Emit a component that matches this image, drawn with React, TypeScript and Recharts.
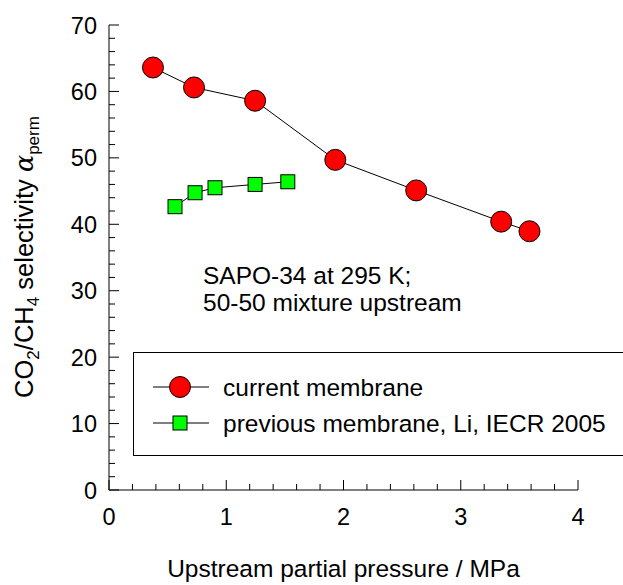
import React from 'react';
import { ComposedChart, Line, XAxis, YAxis, Legend } from 'recharts';

// upstream partial pressure (MPa) and CO2/CH4 permeation selectivity
const CURRENT_P = [0.375, 0.725, 1.246, 1.93, 2.62, 3.345, 3.586];
const CURRENT_SEL = [63.6, 60.6, 58.6, 49.7, 45.1, 40.4, 38.95];
const PREVIOUS_P = [0.563, 0.734, 0.904, 1.246, 1.525];
const PREVIOUS_SEL = [42.65, 44.75, 45.5, 46.0, 46.4];

const SERIES_NAMES = ['current membrane', 'previous membrane, Li, IECR 2005'];

const X_TICKS = [0, 0.2, 0.4, 0.6, 0.8, 1, 1.2, 1.4, 1.6, 1.8, 2, 2.2, 2.4, 2.6, 2.8, 3, 3.2, 3.4, 3.6, 3.8, 4];
const Y_TICKS = [
  0, 2, 4, 6, 8, 10, 12, 14, 16, 18, 20, 22, 24, 26, 28, 30, 32, 34,
  36, 38, 40, 42, 44, 46, 48, 50, 52, 54, 56, 58, 60, 62, 64, 66, 68, 70,
];

const currentData = CURRENT_P.map((x, i) => ({ x, y: CURRENT_SEL[i] }));
const previousData = PREVIOUS_P.map((x, i) => ({ x, y: PREVIOUS_SEL[i] }));

const FONT = '"Liberation Sans", Arial, Helvetica, sans-serif';
const RED = '#ff0000';
const GREEN = '#00ff00';
const TEXT_SIZE = 24.5;
const TICK_SIZE = 23.5;

const isMajor = (v: number, step: number) => Math.abs(v / step - Math.round(v / step)) < 1e-6;

// ticks point into the plot; only major ones get a label
const XTick = (props: any) => {
  const { x, y, payload } = props;
  const major = isMajor(payload.value, 1);
  return (
    <g>
      <line x1={x} x2={x} y1={y} y2={y - (major ? 10 : 6)} stroke="#000" strokeWidth={1} />
      {major && (
        <text x={x} y={y + 35} textAnchor="middle" fontSize={TICK_SIZE} fontFamily={FONT} fill="#000">
          {payload.value}
        </text>
      )}
    </g>
  );
};

const YTick = (props: any) => {
  const { x, y, payload } = props;
  const major = isMajor(payload.value, 10);
  return (
    <g>
      <line x1={x} x2={x + (major ? 10 : 6)} y1={y} y2={y} stroke="#000" strokeWidth={1} />
      {major && (
        <text x={x - 12} y={y + 8.5} textAnchor="end" fontSize={TICK_SIZE} fontFamily={FONT} fill="#000">
          {payload.value}
        </text>
      )}
    </g>
  );
};

const CircleDot = (props: any) => {
  const { cx, cy, index } = props;
  return <circle key={`c-${index}`} cx={cx} cy={cy} r={10.5} fill={RED} stroke="#000" strokeWidth={1} />;
};

const SquareDot = (props: any) => {
  const { cx, cy, index } = props;
  return (
    <rect key={`s-${index}`} x={cx - 7} y={cy - 7} width={14} height={14} fill={GREEN} stroke="#000" strokeWidth={1} />
  );
};

const YLabel = () => (
  <text
    x={33}
    y={257}
    transform="rotate(-90, 33, 257)"
    textAnchor="middle"
    fontSize={25.5}
    fontFamily={FONT}
    fill="#000"
  >
    CO
    <tspan dy={6} fontSize={17}>2</tspan>
    <tspan dy={-6}>/CH</tspan>
    <tspan dy={6} fontSize={17}>4</tspan>
    <tspan dy={-6}> selectivity </tspan>
    <tspan fontStyle="italic" fontFamily='"DejaVu Serif", serif'>α</tspan>
    <tspan dy={6} fontSize={17}>perm</tspan>
  </text>
);

const XLabel = () => (
  <text x={343.5} y={577} textAnchor="middle" fontSize={TEXT_SIZE} fontFamily={FONT} fill="#000">
    Upstream partial pressure / MPa
  </text>
);

const LegendBox = (props: any) => {
  const { payload = [] } = props;
  return (
    <svg width={500} height={104} style={{ display: 'block' }}>
      <rect x={0.5} y={0.5} width={520} height={103} fill="#fff" stroke="#000" strokeWidth={1} />
      {payload.map((entry: any, i: number) => {
        const cy = i === 0 ? 35 : 71;
        return (
          <g key={entry.value}>
            <line x1={20} x2={76} y1={cy} y2={cy} stroke="#000" strokeWidth={1} />
            {i === 0 ? (
              <circle cx={47} cy={cy} r={10.5} fill={RED} stroke="#000" />
            ) : (
              <rect x={40} y={cy - 7} width={14} height={14} fill={GREEN} stroke="#000" />
            )}
            <text x={90} y={cy + 8.5} fontSize={TEXT_SIZE} fontFamily={FONT} fill="#000">
              {entry.value}
            </text>
          </g>
        );
      })}
    </svg>
  );
};

export default function App() {
  return (
    <div
      style={{
        position: 'absolute',
        left: 0,
        top: 0,
        width: 623,
        height: 585,
        overflow: 'hidden',
        background: '#fff',
        fontFamily: FONT,
      }}
    >
      <ComposedChart width={623} height={585} margin={{ top: 25, right: 45, bottom: 5, left: 9 }}>
        <XAxis
          type="number"
          dataKey="x"
          domain={[0, 4]}
          ticks={X_TICKS}
          interval={0}
          tickSize={0}
          tickMargin={0}
          tickLine={false}
          tick={<XTick />}
          height={90}
          axisLine={{ stroke: '#000', strokeWidth: 1 }}
          label={<XLabel />}
          allowDataOverflow
        />
        <YAxis
          type="number"
          dataKey="y"
          domain={[0, 70]}
          ticks={Y_TICKS}
          interval={0}
          tickSize={0}
          tickMargin={0}
          tickLine={false}
          tick={<YTick />}
          width={100}
          axisLine={{ stroke: '#000', strokeWidth: 1 }}
          label={<YLabel />}
          allowDataOverflow
        />
        {/* zero-size wrapper so the legend reserves no room in the layout */}
        <Legend
          verticalAlign="top"
          align="left"
          content={<LegendBox />}
          wrapperStyle={{ position: 'absolute', left: 133, top: 352, width: 0, height: 0, overflow: 'visible' }}
        />
        <Line
          data={currentData}
          dataKey="y"
          name={SERIES_NAMES[0]}
          stroke="#000"
          strokeWidth={1}
          dot={<CircleDot />}
          activeDot={false}
          legendType="circle"
          isAnimationActive={false}
        />
        <Line
          data={previousData}
          dataKey="y"
          name={SERIES_NAMES[1]}
          stroke="#000"
          strokeWidth={1}
          dot={<SquareDot />}
          activeDot={false}
          legendType="square"
          isAnimationActive={false}
        />
      </ComposedChart>
      <div
        style={{
          position: 'absolute',
          left: 203,
          top: 262,
          fontSize: TEXT_SIZE,
          lineHeight: '27px',
          color: '#000',
          whiteSpace: 'nowrap',
        }}
      >
        SAPO-34 at 295 K;
        <br />
        50-50 mixture upstream
      </div>
    </div>
  );
}
